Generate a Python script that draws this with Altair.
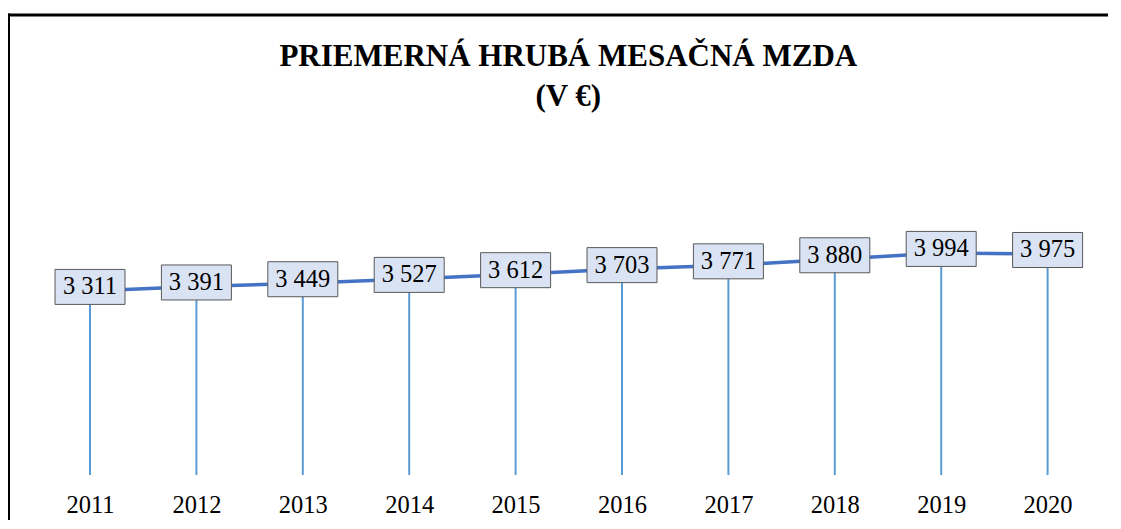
import altair as alt
import pandas as pd

years = ["2011", "2012", "2013", "2014", "2015", "2016", "2017", "2018", "2019", "2020"]
wages = [3311, 3391, 3449, 3527, 3612, 3703, 3771, 3880, 3994, 3975]
title_lines = ["PRIEMERNÁ HRUBÁ MESAČNÁ MZDA", "(V €)"]

df = pd.DataFrame({
    "year": years,
    "wage": wages,
    "label": [f"{v:,}".replace(",", " ") for v in wages],
})

FONT = "Liberation Serif"
W, H = 1064, 278
PAD = {"left": 28.8, "top": 189, "right": 7.2, "bottom": 45}
TOTAL_W = PAD["left"] + W + PAD["right"]
TOTAL_H = PAD["top"] + H + PAD["bottom"]

x = alt.X("year:O", scale=alt.Scale(type="point", padding=0.5),
          axis=alt.Axis(title=None, domain=False, ticks=False, labelAngle=0,
                        labelFont=FONT, labelFontSize=24.5, labelColor="black",
                        labelBaseline="alphabetic", labelPadding=37.5))
y = alt.Y("wage:Q", scale=alt.Scale(domain=[0, 5000], nice=False, zero=True), axis=None)

base = alt.Chart(df)

drops = base.mark_rule(color="#5b9bd5", strokeWidth=2).encode(
    x=x, y=y, y2=alt.datum(0))
line = base.mark_line(color="#4472c4", strokeWidth=3.5).encode(x=x, y=y)
boxes = base.mark_point(
    shape="M-1,-0.5H1V0.5H-1Z", size=4900, filled=True, fill="#dae3f3",
    stroke="#595959", strokeWidth=1, opacity=1, fillOpacity=1, yOffset=-4
).encode(x=x, y=y)
texts = base.mark_text(font=FONT, fontSize=24.5, color="black",
                       baseline="middle", yOffset=-3.5).encode(x=x, y=y, text="label:N")

one = alt.Chart(pd.DataFrame({"k": [0]}))

title1 = one.mark_text(font=FONT, fontSize=31, fontWeight="bold", color="black",
                       align="center", baseline="alphabetic").encode(
    x=alt.value(531.5), y=alt.value(65.5 - 197), text=alt.value(title_lines[0]))
title2 = one.mark_text(font=FONT, fontSize=31, fontWeight="bold", color="black",
                       align="center", baseline="alphabetic").encode(
    x=alt.value(531.5), y=alt.value(105.5 - 197), text=alt.value(title_lines[1]))

left_x = 0.5 - PAD["left"]
right_x = TOTAL_W - PAD["left"]
top_y = 7 - PAD["top"]
bottom_y = TOTAL_H - PAD["top"]
frame_l = one.mark_rule(color="black", strokeWidth=3).encode(
    x=alt.value(left_x), y=alt.value(top_y - 1.5), y2=alt.value(bottom_y))
frame_t = one.mark_rule(color="black", strokeWidth=3).encode(
    x=alt.value(left_x - 1.5), x2=alt.value(right_x), y=alt.value(top_y))

chart = alt.layer(drops, line, boxes, texts, title1, title2, frame_l, frame_t).properties(
    width=W, height=H,
    autosize=alt.AutoSizeParams(type="none"),
    padding=PAD,
).configure(font=FONT).configure_view(strokeWidth=0, stroke="transparent")

chart.save("out.html", embed_options={"renderer": "svg", "actions": False})
